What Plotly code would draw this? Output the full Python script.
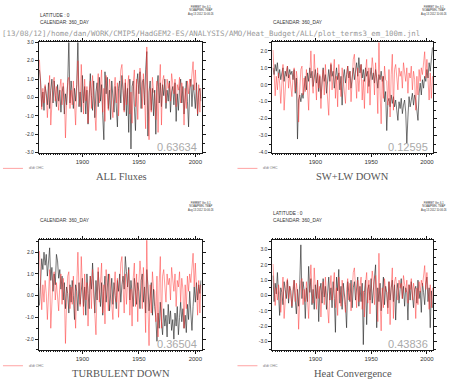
import plotly.graph_objects as go

W, H = 452, 384

years = list(range(1862, 2006))

# d/dt OHC (red, same in every panel)
ohc = [2.05, 0.4, -0.65, 0.5, -0.3, 0.7, 0.1, -1.1,
       0.3, 1.2, -1.5, 0.2, 0.8, 1.1, -0.2, 0.6, 0.0, -0.7,
       0.5, 1.0, -0.4, 0.8, 0.2, -2.2, -0.3, 0.9, 1.1, -0.6,
       0.4, -0.4, 0.9, -0.8, -1.5, 0.5, 2.0, 0.3, -0.5, 1.8,
       0.2, -0.9, 1.0, -0.2, 0.6, -1.4, 0.3, 0.9, -0.6, 1.2,
       0.1, -1.0, -1.8, 0.4, 1.3, -0.3, 0.7, 1.5, -0.8, 0.5,
       -1.3, 1.2, 0.2, -0.7, 1.0, 0.3, -0.5, -1.1, 0.4, 1.1,
       -0.3, 0.8, -1.0, 0.5, 1.5, 1.8, 0.2, -0.8, 1.0, -0.4,
       0.6, 1.2, -0.9, 0.3, -1.4, 0.8, 1.5, -0.5, 1.0, -1.2,
       0.6, 1.6, 0.9, -0.6, 1.3, 0.2, -1.7, 2.75, -0.4, -2.3,
       0.5, -0.8, 1.1, 0.3, 0.2, -1.2, 0.9, -1.9, 0.6, 1.8,
       -1.5, 0.9, 1.2, 0.4, -0.3, 1.0, 0.5, 0.8, -0.2, 1.3,
       0.6, 0.2, 1.0, -0.5, 0.7, 0.4, 1.1, -0.3, 0.8, 0.3,
       -1.5, 0.5, -0.6, 0.9, 0.2, 1.0, 0.6, 1.4, 1.95, 0.4,
       1.5, 0.3, -0.9, 0.7, -0.8, 0.5]

all_fluxes = [1.5, 0.9, -0.5, 0.3, -0.7, 0.6, 0.2, -0.4,
              0.8, -0.6, 0.4, 1.0, -0.3, 0.9, 0.1, -0.5, 0.7, -0.2,
              0.4, -0.8, 0.3, 0.6, -0.9, 0.2, -0.4, 0.8, 3.2, -0.3,
              0.9, 0.1, -0.6, 0.5, -0.2, 0.7, 3.2, -0.5, 0.3, -0.8,
              1.2, -0.3, 0.6, -0.9, 0.4, -1.45, 0.2, 1.3, 0.1, -0.7,
              0.9, -1.1, 0.3, 0.8, -0.5, 1.1, -0.2, 0.7, -1.0, -2.3,
              1.4, 0.2, 1.1, -0.6, 0.4, -1.2, 0.9, 0.1, -0.8, 0.6,
              -0.4, -1.6, 0.5, 0.9, -0.3, 1.2, 0.4, -0.7, 0.8, -1.0,
              0.5, -1.9, 1.0, -2.8, 0.6, 0.9, -0.5, -1.8, 0.7, 1.3,
              0.2, 1.4, -0.6, 0.8, 1.0, -0.4, 1.5, 2.5, -2.1, 0.3,
              0.9, -0.7, 0.5, -1.0, 0.4, -2.0, 0.6, 1.2, -0.3, 0.8,
              -0.5, 0.7, 0.1, 1.0, -0.6, 0.4, -0.2, 0.9, -0.8, 0.3,
              0.6, -0.4, 0.8, -1.3, 0.2, -0.7, 0.5, 1.0, -0.3, 0.6,
              -0.9, 0.3, 0.9, -0.2, -1.6, 0.4, 1.0, -0.5, 0.7, 0.2,
              -0.6, 0.8, -1.0, 0.3, 0.5, -0.2]

sw_lw_down = [1.0, 0.6, 1.2, 0.8, 1.3, 0.4, 0.9, 0.3,
              0.7, 1.0, 0.2, 0.8, 0.5, 1.1, 0.4, 0.9, 0.6, 0.8,
              0.3, 0.9, -0.5, 0.4, -3.2, -0.9, -0.6, -1.0, -0.5, -0.8,
              -0.2, 0.5, -0.3, 0.7, 0.2, 1.0, 0.4, 0.8, -0.1, 0.6,
              0.9, 0.1, 0.7, -0.4, 0.5, -0.8, 0.3, 1.0, 0.2, 0.6,
              -0.5, 0.4, 0.9, 0.2, 1.2, 0.5, 0.8, -0.2, 0.6, 1.0,
              0.3, 0.7, -0.3, 0.5, -1.2, 0.4, 0.9, 0.1, 0.6, 1.1,
              0.4, 0.8, -0.2, 0.6, 1.0, 0.3, 0.9, 1.3, 0.5, 1.6,
              0.7, 1.2, 0.4, 0.9, 0.2, 1.0, 0.5, 0.8, -0.1, 0.6,
              1.0, 0.3, 0.7, 0.1, 0.9, 0.4, -0.2, 0.6, 0.3, 0.8,
              0.2, 0.5, -1.0, -0.4, -2.7, -1.0, -0.8, -1.3, -0.6, -1.1,
              -0.7, -1.3, -0.9, -1.5, -2.1, -1.0, -1.4, -0.8, -1.7, -1.2,
              -0.9, -1.6, -3.45, -1.9, -0.7, -1.3, -1.0, -0.5, -1.2, -0.6,
              -0.9, -1.4, -2.1, -0.5, 0.1, -0.6, 0.3, -0.2, 0.5, 0.2,
              0.9, 0.4, 1.3, 0.8, 1.6, 2.2]

turbulent_down = [-0.45, 0.8, 1.7, 1.2, 2.0, 1.4, 1.9, 0.9,
                  1.8, 2.2, 0.7, 1.3, 0.2, 1.0, 0.5, 1.9, 1.6, 0.8,
                  1.2, 0.3, 0.9, -0.2, 0.6, -0.6, 0.4, 0.1, -0.8, 0.5,
                  -0.3, 0.7, 0.0, -1.1, 0.5, 0.2, -0.7, 0.6, -0.4, 0.3,
                  0.8, -0.5, 0.4, -0.9, 1.0, 0.1, -0.6, 0.9, 0.3, 1.5,
                  0.5, -0.8, 0.7, -0.2, 1.1, 0.4, -0.5, 0.6, -0.9, 0.2,
                  0.9, -0.3, 0.5, 1.0, -0.7, 0.3, 0.8, -0.4, 0.6, 0.0,
                  -0.6, 0.7, 0.2, 1.0, -0.3, 0.5, 0.9, 0.3, 1.8, 1.1,
                  0.4, 1.3, -0.2, 0.7, 0.1, -0.5, 0.8, 0.3, -0.4, 0.6,
                  0.2, -0.6, 0.7, 1.0, -0.3, 0.4, -0.8, 1.2, 0.5, -0.7,
                  -0.2, 0.6, -0.9, 0.3, -0.5, -1.0, -2.1, -0.8, -1.5, -0.3,
                  -1.2, -1.8, -0.6, -1.4, -0.9, -1.9, -0.4, -1.3, -0.7, -1.6,
                  -1.1, -2.0, -0.8, -1.4, -0.5, -1.8, -1.0, -0.3, -1.2, -0.6,
                  -1.5, -0.9, -1.7, -0.4, -1.1, 0.2, -0.8, -1.6, -0.5, 0.4,
                  -0.3, 0.6, -0.2, 0.5, 0.1, 0.7]

heat_convergence = [1.3, -0.4, 0.8, 0.1, 1.5, -0.3, -1.3, 0.5,
                    0.2, -0.6, 0.9, 0.4, -0.2, 1.0, -0.5, 0.6, 0.3, -0.8,
                    0.5, 1.0, -0.3, -1.2, 0.4, -0.7, 0.8, 3.3, -0.2, 0.9,
                    0.3, -1.5, 0.5, -0.4, 1.9, 0.2, 1.1, -0.6, 0.4, -0.9,
                    0.7, -0.2, 1.0, -1.7, 0.3, 0.8, -0.5, 1.1, -0.1, 0.6,
                    -0.9, 0.4, 1.2, -0.3, 0.5, -0.8, 0.9, -0.2, -2.4, 1.2,
                    0.3, 1.7, -0.5, 0.6, -0.9, 0.8, 0.1, -0.6, -2.1, 0.9,
                    0.2, -0.4, 1.0, -0.8, 0.5, 0.9, -0.3, 0.4, 1.2, -0.7,
                    0.6, -0.4, 0.8, -3.2, 0.2, 1.0, -1.9, 0.4, 0.7, -0.3,
                    1.1, -0.5, 0.3, 0.9, 2.0, -2.1, 0.5, -0.4, 0.8, -1.0,
                    0.3, 1.2, -0.6, 0.6, 0.2, -0.8, 0.9, -0.3, 0.5, 1.0,
                    -0.4, 0.7, -1.6, 0.3, 0.8, -0.5, 0.4, 1.1, -0.2, 0.6,
                    -0.7, 0.5, 0.2, -1.6, 0.7, -0.3, 0.9, 0.1, -0.8, 0.4,
                    0.6, -0.5, 1.0, -0.2, 0.3, -1.1, 0.8, 0.2, -0.6, 0.7,
                    1.2, -0.4, 0.5, -2.1, 0.3, -0.8]

panel_titles = ["ALL Fluxes", "SW+LW DOWN", "TURBULENT DOWN", "Heat Convergence"]
correlations = ["0.63634", "0.12595", "0.36504", "0.43836"]
panel_series = [all_fluxes, sw_lw_down, turbulent_down, heat_convergence]
y_ranges = [[-3.0, 3.0], [-4.0, 2.5], [-2.5, 2.55], [-3.55, 3.6]]
y_ticks = [[-3, -2, -1, 0, 1, 2, 3],
           [-4, -3, -2, -1, 0, 1, 2],
           [-2, -1, 0, 1, 2],
           [-3, -2, -1, 0, 1, 2, 3]]
x_ticks = [1900, 1950, 2000]
x_range = [1861.5, 2005.5]
legend_label = "d/dt OHC"
path_text = "[13/08/12]/home/dan/WORK/CMIP5/HadGEM2-ES/ANALYSIS/AMO/Heat_Budget/ALL/plot_terms3_em_100m.jnl"
ferret_lines = ["FERRET Ver. 6.1", "NOAA/PMEL TMAP", "Aug 13 2012 10:06:26"]

# pixel boxes: (left, right, top, bottom)
boxes = [(39, 202, 40, 152), (273, 434, 40, 152),
         (39, 202, 241, 352.5), (273, 434, 241, 352.5)]

def px(x):
    return x / W

def py(y):
    return 1 - y / H

fig = go.Figure()
layout = dict(width=W, height=H, margin=dict(l=0, r=0, t=0, b=0),
              paper_bgcolor="white", plot_bgcolor="white", showlegend=False)

AXC = "#1a1a1a"
annotations = []
shapes = []

for i in range(4):
    sfx = "" if i == 0 else str(i + 1)
    l, r, t, b = boxes[i]
    fig.add_trace(go.Scatter(x=years, y=panel_series[i], mode="lines",
                             xaxis="x" + sfx, yaxis="y" + sfx,
                             line=dict(color="rgba(40,40,40,0.75)", width=0.85)))
    fig.add_trace(go.Scatter(x=years, y=ohc, mode="lines",
                             xaxis="x" + sfx, yaxis="y" + sfx,
                             line=dict(color="rgba(255,50,50,0.55)", width=0.9)))
    layout["xaxis" + sfx] = dict(
        domain=[px(l), px(r)], anchor="y" + sfx, range=x_range,
        showline=True, linecolor=AXC, linewidth=1, mirror="ticks",
        ticks="outside", ticklen=3, tickcolor=AXC, tickwidth=1,
        tickmode="array", tickvals=x_ticks, ticktext=[str(v) for v in x_ticks],
        tickfont=dict(family="Liberation Sans", size=6, color="#333"),
        showgrid=False, zeroline=False,
        minor=dict(ticks="outside", ticklen=1.5, tickcolor=AXC, dtick=2, tick0=1860, showgrid=False))
    layout["yaxis" + sfx] = dict(
        domain=[py(b), py(t)], anchor="x" + sfx, range=y_ranges[i],
        showline=True, linecolor=AXC, linewidth=1, mirror="ticks",
        ticks="outside", ticklen=3, tickcolor=AXC, tickwidth=1,
        tickmode="array", tickvals=y_ticks[i], ticktext=[f"{v:.1f}" for v in y_ticks[i]],
        tickfont=dict(family="Liberation Sans", size=5, color="#333"),
        showgrid=False, zeroline=False,
        minor=dict(ticks="outside", ticklen=2, tickcolor=AXC, dtick=0.5, tick0=0, showgrid=False))

    cx = (l + r) / 2 + (1 if i % 2 == 0 else 0)
    # title
    annotations.append(dict(text=panel_titles[i], x=px(cx), y=py(b + 24), xref="paper", yref="paper",
                            showarrow=False, xanchor="center", yanchor="middle",
                            font=dict(family="Liberation Serif", size=10.5, color="#555")))
    # correlation
    annotations.append(dict(text=correlations[i], x=px(r - 3), y=py(b - 6), xref="paper", yref="paper",
                            showarrow=False, xanchor="right", yanchor="middle",
                            font=dict(family="Liberation Sans", size=11, color="#aaa")))
    # legend sample
    lx = 3 if i % 2 == 0 else 238
    shapes.append(dict(type="line", xref="paper", yref="paper",
                       x0=px(lx), x1=px(lx + 20), y0=py(b + 16), y1=py(b + 16),
                       line=dict(color="rgba(255,90,90,0.7)", width=0.8)))
    annotations.append(dict(text=legend_label, x=px(lx + 24), y=py(b + 16), xref="paper", yref="paper",
                            showarrow=False, xanchor="left", yanchor="middle",
                            font=dict(family="Liberation Sans", size=3.5, color="#777")))
    # ferret stamp
    fx = 201 if i % 2 == 0 else 435
    fy0 = 1 if i < 2 else 200
    annotations.append(dict(text="<br>".join(ferret_lines), x=px(fx), y=py(fy0), xref="paper", yref="paper",
                            showarrow=False, xanchor="center", yanchor="top", align="center",
                            borderpad=0,
                            font=dict(family="Liberation Sans", size=2.6, color="#333")))

# headers
def header(text, x, y):
    annotations.append(dict(text=text, x=px(x), y=py(y), xref="paper", yref="paper",
                            showarrow=False, xanchor="left", yanchor="middle",
                            font=dict(family="Liberation Sans", size=4.8, color="#333")))

header("LATITUDE : 0", 38, 13)
header("CALENDAR: 360_DAY", 38, 20)
header("CALENDAR: 360_DAY", 272, 20)
header("CALENDAR: 360_DAY", 38, 221)
header("LATITUDE : 0", 272, 214)
header("CALENDAR: 360_DAY", 272, 221)

annotations.append(dict(text=path_text, x=px(0), y=py(31), xref="paper", yref="paper",
                        showarrow=False, xanchor="left", yanchor="middle",
                        font=dict(family="DejaVu Sans Mono", size=7.4, color="#999")))

layout["annotations"] = annotations
layout["shapes"] = shapes
fig.update_layout(**layout)
fig.write_html("out.html", config={"displayModeBar": False},
               post_script="document.body.style.margin='0';document.body.style.overflow='hidden';")
